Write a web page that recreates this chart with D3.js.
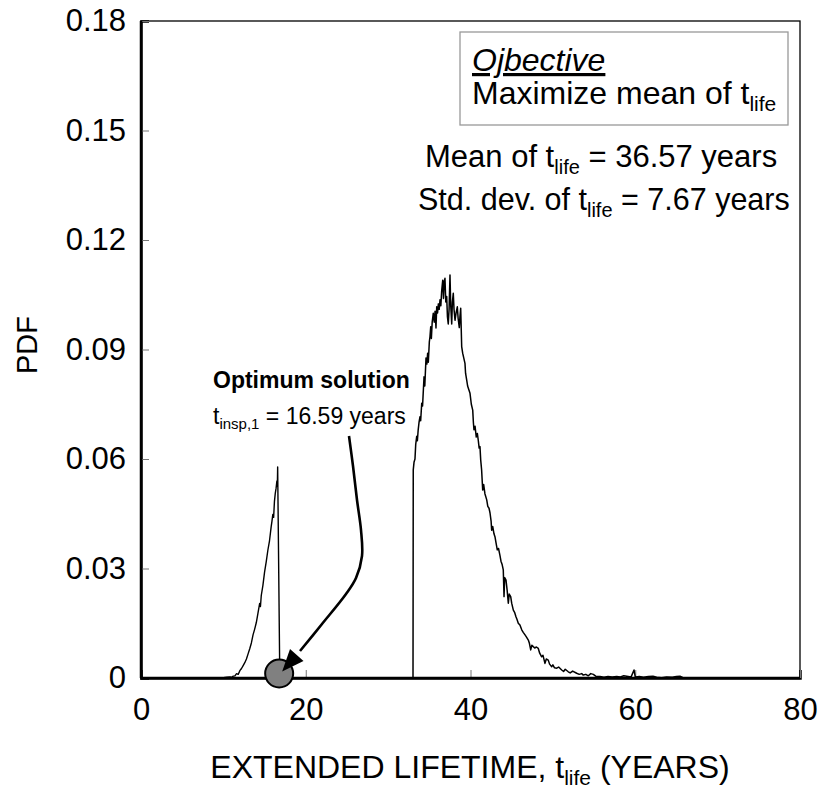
<!DOCTYPE html>
<html><head><meta charset="utf-8">
<script src="https://cdn.jsdelivr.net/npm/d3@7"></script>
<style>
body{margin:0;background:#fff;}
svg text{font-family:"Liberation Sans",Arial,sans-serif;fill:#000;}
</style></head>
<body><svg id="c" width="822" height="793"></svg>
<script>
// ---- data ----
const xTicks = [0, 20, 40, 60, 80];
const yTicks = [0, 0.03, 0.06, 0.09, 0.12, 0.15, 0.18];
const yTickLabels = ["0", "0.03", "0.06", "0.09", "0.12", "0.15", "0.18"];
// PDF of extended lifetime (years, density)
const lowMode = [[0,0],[9.6,0],[10.0,0.0001],[10.4,0.0002],[10.8,0.0003],[11.0,0.0002],[11.2,0.0005],[11.4,0.0006],[11.6,0.0012],[11.8,0.0010],[12.0,0.0020],[12.2,0.0026],[12.4,0.0034],[12.6,0.0042],[12.8,0.0052],[13.0,0.0066],[13.2,0.0080],[13.4,0.0096],[13.6,0.0118],[13.8,0.0134],[14.0,0.0152],[14.2,0.0178],[14.4,0.0204],[14.5,0.0196],[14.6,0.0226],[14.8,0.0254],[15.0,0.0290],[15.2,0.0318],[15.4,0.0350],[15.6,0.0376],[15.8,0.0414],[15.9,0.0430],[16.0,0.0448],[16.1,0.0440],[16.2,0.0484],[16.3,0.0506],[16.4,0.0520],[16.5,0.0540],[16.55,0.0525],[16.59,0.0578],[16.85,0]];
const highMode = [[16.85,0],[33.02,0],[33.05,0.0570],[33.15,0.0592],[33.26,0.0600],[33.35,0.0640],[33.47,0.0662],[33.55,0.0650],[33.65,0.0680],[33.75,0.0700],[33.87,0.0716],[33.95,0.0705],[34.08,0.0753],[34.18,0.0745],[34.28,0.0790],[34.36,0.0825],[34.45,0.0800],[34.6,0.0877],[34.7,0.0860],[34.8,0.0890],[34.88,0.0865],[35.0,0.0920],[35.08,0.0935],[35.17,0.0962],[35.25,0.0930],[35.35,0.0975],[35.48,0.0999],[35.6,0.0975],[35.7,0.1005],[35.81,0.0959],[35.9,0.1017],[36.0,0.1000],[36.1,0.1025],[36.2,0.1010],[36.3,0.1036],[36.4,0.1020],[36.5,0.1060],[36.63,0.1090],[36.72,0.1040],[36.8,0.1085],[36.9,0.1095],[37.0,0.1030],[37.11,0.1045],[37.2,0.0990],[37.3,0.0970],[37.4,0.1010],[37.51,0.1104],[37.6,0.1020],[37.72,0.0970],[37.8,0.1030],[37.91,0.1054],[38.0,0.1010],[38.12,0.0980],[38.25,0.1000],[38.4,0.1017],[38.5,0.0985],[38.64,0.0960],[38.72,0.0990],[38.81,0.1013],[38.93,0.0908],[39.05,0.0890],[39.2,0.0875],[39.33,0.0862],[39.4,0.0835],[39.54,0.0816],[39.65,0.0800],[39.8,0.0790],[39.94,0.0780],[40.1,0.0750],[40.27,0.0734],[40.35,0.0700],[40.42,0.0680],[40.55,0.0690],[40.7,0.0660],[40.83,0.0670],[40.95,0.0650],[41.05,0.0630],[41.15,0.0634],[41.24,0.0597],[41.35,0.0570],[41.48,0.0515],[41.6,0.0530],[41.75,0.0505],[41.97,0.0488],[42.1,0.0470],[42.25,0.0465],[42.37,0.0452],[42.5,0.0430],[42.57,0.0405],[42.7,0.0415],[42.85,0.0395],[42.97,0.0387],[43.1,0.0370],[43.25,0.0351],[43.4,0.0355],[43.58,0.0335],[43.7,0.0320],[43.85,0.0310],[43.98,0.0296],[44.07,0.0223],[44.15,0.0275],[44.31,0.0268],[44.45,0.0240],[44.59,0.0205],[44.7,0.0230],[44.88,0.0223],[45.0,0.0205],[45.2,0.0186],[45.35,0.0180],[45.52,0.0168],[45.65,0.0160],[45.8,0.0150],[46.0,0.0145],[46.22,0.0132],[46.4,0.0125],[46.62,0.0118],[46.8,0.0112],[47.02,0.0104],[47.15,0.0095],[47.31,0.0077],[47.45,0.0090],[47.62,0.0086],[47.8,0.0082],[48.0,0.0085],[48.23,0.0081],[48.4,0.0068],[48.64,0.0058],[48.8,0.0062],[49.04,0.0040],[49.2,0.0052],[49.44,0.0049],[49.6,0.0038],[49.86,0.0031],[50.0,0.0036],[50.2,0.0028],[50.47,0.0027],[50.7,0.0030],[51.07,0.0022],[51.3,0.0018],[51.5,0.0024],[51.87,0.0017],[52.1,0.0014],[52.4,0.0019],[52.89,0.0013],[53.2,0.0010],[53.5,0.0012],[53.69,0.0008],[54.0,0.0010],[54.3,0.0006],[54.6,0.0012],[54.91,0.0010],[55.2,0.0005],[55.72,0.0004],[56.2,0.0002],[56.7,0.0004],[57.2,0.0003],[57.75,0.0004],[58.2,0.0003],[58.6,0.0006],[58.96,0.0005],[59.5,0.0003],[59.85,0.0022],[60.0,0.0003],[60.5,0.0004],[61.0,0.0002],[61.6,0.0004],[62.15,0.0005],[62.6,0.0002],[63.2,0.0001],[63.8,0.0003],[64.5,0.0002],[65.0,0.0004],[65.43,0.0005],[65.8,0.0001],[66.5,0],[80,0]];
const optimumT = 16.59;
const meanLife = 36.57;
const stdLife = 7.67;

// ---- layout ----
const svg = d3.select("#c");
const L = 141, R = 800, T = 21, B = 678;
const x = d3.scaleLinear().domain([0, 80]).range([L, R]);
const y = d3.scaleLinear().domain([0, 0.18]).range([B, T]);
const FS = 31;

// frame (top/right thin)
svg.append("rect").attr("x", L).attr("y", T).attr("width", R - L).attr("height", B - T)
  .attr("fill", "none").attr("stroke", "#000").attr("stroke-width", 1.3);

// axes with inward ticks
const xAxis = svg.append("g").attr("transform", `translate(0,${B})`)
  .call(d3.axisBottom(x).tickValues(xTicks).tickSize(-8).tickPadding(20).tickFormat(d3.format("d")));
const yAxis = svg.append("g").attr("transform", `translate(${L},0)`)
  .call(d3.axisLeft(y).tickValues(yTicks).tickSize(-8).tickPadding(15).tickFormat((d, i) => yTickLabels[i]));
[xAxis, yAxis].forEach(g => {
  g.select(".domain").attr("stroke", "#000").attr("stroke-width", 2.5);
  g.selectAll(".tick line").attr("stroke", "#777").attr("stroke-width", 1);
  g.selectAll(".tick text").attr("font-size", FS).attr("font-family", "Liberation Sans, Arial, sans-serif").attr("fill", "#000");
});
xAxis.selectAll(".tick text").attr("dy", "0.71em");

// curves
const line = d3.line().x(d => x(d[0])).y(d => y(d[1]));
svg.append("path").datum(lowMode).attr("d", line).attr("fill", "none").attr("stroke", "#000").attr("stroke-width", 1.4).attr("stroke-linejoin", "round");
svg.append("path").datum(highMode).attr("d", line).attr("fill", "none").attr("stroke", "#000").attr("stroke-width", 1.5).attr("stroke-linejoin", "round");

// redraw bottom/left axis lines on top
svg.append("line").attr("x1", L).attr("x2", R).attr("y1", B).attr("y2", B).attr("stroke", "#000").attr("stroke-width", 2.5);
svg.append("line").attr("x1", L).attr("x2", L).attr("y1", T).attr("y2", B).attr("stroke", "#000").attr("stroke-width", 2.5);

// axis titles
svg.append("text").attr("transform", `translate(37,345) rotate(-90)`).attr("text-anchor", "middle")
  .attr("font-size", 29).text("PDF");
const xt = svg.append("text").attr("x", 470).attr("y", 778).attr("text-anchor", "middle").attr("font-size", 32);
xt.append("tspan").text("EXTENDED LIFETIME, t");
xt.append("tspan").attr("font-size", 21).attr("dy", 7).text("life");
xt.append("tspan").attr("dy", -7).text(" (YEARS)");

// objective box
svg.append("rect").attr("x", 460).attr("y", 32).attr("width", 328).attr("height", 93)
  .attr("fill", "#fff").attr("stroke", "#999").attr("stroke-width", 1.3);
svg.append("text").attr("x", 472).attr("y", 71).attr("font-size", 32).attr("font-style", "italic")
  .attr("text-decoration", "underline").text("Ojbective");
const mx = svg.append("text").attr("x", 472).attr("y", 104).attr("font-size", 32);
mx.append("tspan").text("Maximize mean of t");
mx.append("tspan").attr("font-size", 21).attr("dy", 7).text("life");

// statistics
const m1 = svg.append("text").attr("x", 425).attr("y", 167).attr("font-size", FS);
m1.append("tspan").text("Mean of t");
m1.append("tspan").attr("font-size", 20).attr("dy", 7).text("life");
m1.append("tspan").attr("dy", -7).text(` = ${meanLife.toFixed(2)} years`);
const m2 = svg.append("text").attr("x", 418).attr("y", 210).attr("font-size", 30.5);
m2.append("tspan").text("Std. dev. of t");
m2.append("tspan").attr("font-size", 20).attr("dy", 7).text("life");
m2.append("tspan").attr("dy", -7).text(` = ${stdLife.toFixed(2)} years`);

// optimum annotation
svg.append("text").attr("x", 213).attr("y", 388).attr("font-size", 23).attr("font-weight", "bold").text("Optimum solution");
const o2 = svg.append("text").attr("x", 213).attr("y", 424).attr("font-size", 23);
o2.append("tspan").text("t");
o2.append("tspan").attr("font-size", 15).attr("dy", 5).text("insp,1");
o2.append("tspan").attr("dy", -5).text(` = ${optimumT.toFixed(2)} years`);

// marker
const cx = x(optimumT) + 1.5, cy = y(0) - 4.5;
// arrow
const arrowPts = [[349, 436], [353, 466], [357, 500], [361, 530], [362, 556], [356, 578], [346, 594], [322, 624], [300, 651]];
svg.append("path").attr("d", d3.line().curve(d3.curveCatmullRom)(arrowPts))
  .attr("fill", "none").attr("stroke", "#000").attr("stroke-width", 2.6);
svg.append("circle").attr("cx", cx).attr("cy", cy).attr("r", 14)
  .attr("fill", "#808080").attr("stroke", "#000").attr("stroke-width", 2);
// arrow head
const tip = [cx + 3, cy - 2];
const ang = Math.atan2(tip[1] - 648, tip[0] - 303);
const hl = 22, hw = 9;
const bx = tip[0] - hl * Math.cos(ang), by = tip[1] - hl * Math.sin(ang);
svg.append("path").attr("d", `M${tip[0]},${tip[1]} L${bx + hw * Math.sin(ang)},${by - hw * Math.cos(ang)} L${bx - hw * Math.sin(ang)},${by + hw * Math.cos(ang)} Z`)
  .attr("fill", "#000");
</script></body></html>
